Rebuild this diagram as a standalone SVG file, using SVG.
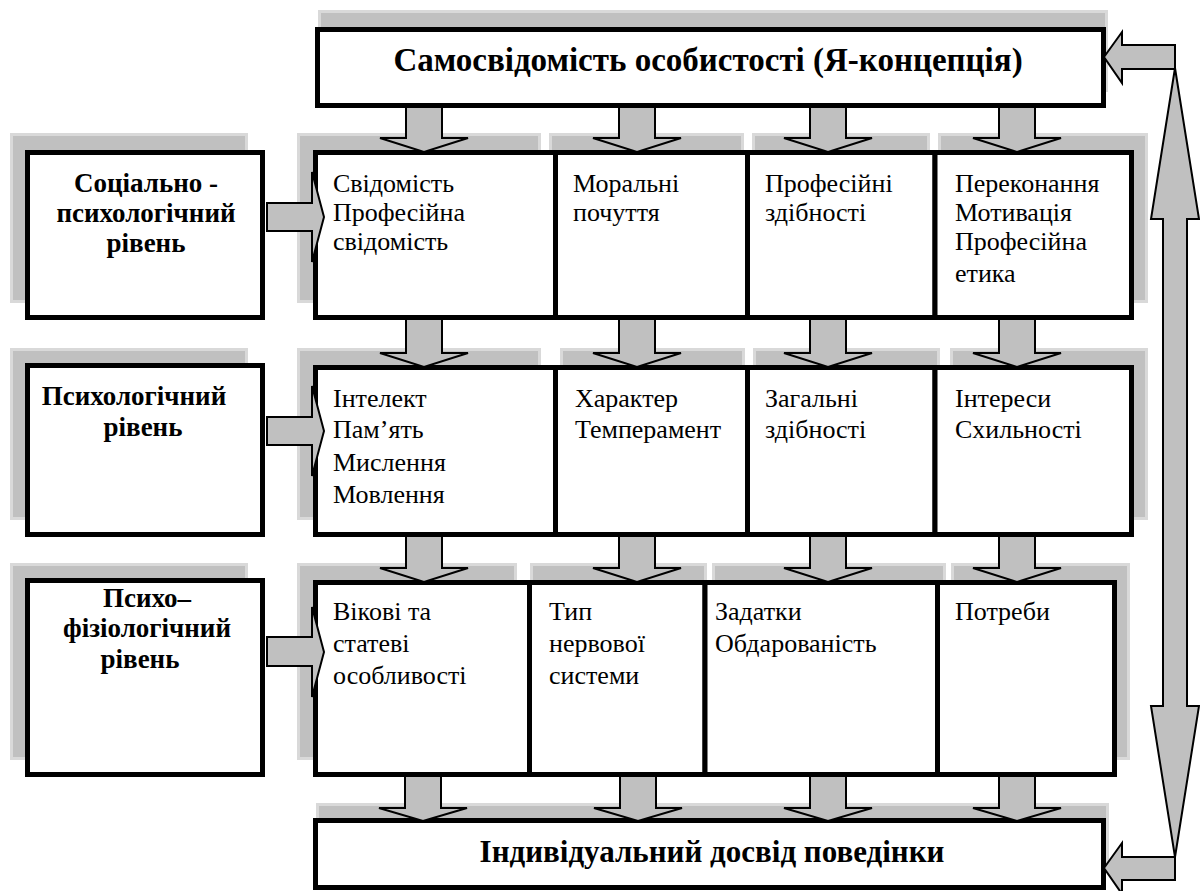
<svg xmlns="http://www.w3.org/2000/svg" width="1200" height="891" viewBox="0 0 1200 891">
<defs>
<style>
.sh{fill:#c0c0c0;stroke:#d9d9d9;stroke-width:3}
.box{fill:#ffffff;stroke:#000000;stroke-width:5}
.arr{fill:#c0c0c0;stroke:#000000;stroke-width:2;stroke-linejoin:miter}
.lvl{font-family:"Liberation Serif","Times New Roman",serif;font-weight:bold;font-size:27px;fill:#000;text-anchor:middle}
.cell{font-family:"Liberation Serif","Times New Roman",serif;font-size:26px;fill:#000}
.ttl{font-family:"Liberation Serif","Times New Roman",serif;font-weight:bold;font-size:33px;fill:#000;text-anchor:middle}
</style>
</defs>
<rect width="1200" height="891" fill="#ffffff"/>

<g id="shadows">
<rect class="sh" x="319.5" y="11.5" width="787" height="79"/>
<rect class="sh" x="11.5" y="134.5" width="235" height="167"/>
<rect class="sh" x="298.5" y="134.5" width="241" height="167"/>
<rect class="sh" x="550.5" y="134.5" width="192" height="167"/>
<rect class="sh" x="753.5" y="134.5" width="175" height="167"/>
<rect class="sh" x="939.5" y="134.5" width="207" height="167"/>
<rect class="sh" x="11.5" y="349.5" width="235" height="169"/>
<rect class="sh" x="298.5" y="349.5" width="241" height="169"/>
<rect class="sh" x="561.5" y="349.5" width="182" height="169"/>
<rect class="sh" x="754.5" y="349.5" width="184" height="169"/>
<rect class="sh" x="951.5" y="349.5" width="195" height="169"/>
<rect class="sh" x="11.5" y="564.5" width="235" height="194"/>
<rect class="sh" x="298.5" y="564.5" width="217" height="194"/>
<rect class="sh" x="531.5" y="564.5" width="174" height="194"/>
<rect class="sh" x="713.5" y="564.5" width="231" height="194"/>
<rect class="sh" x="952.5" y="564.5" width="176" height="194"/>
<rect class="sh" x="317.5" y="804.5" width="790" height="60"/>
</g>

<g id="top">
<rect class="box" x="317.5" y="29.5" width="786" height="76"/>
<text class="ttl" x="708" y="71">Самосвідомість особистості (Я-концепція)</text>
</g>

<g id="level1">
<rect class="box" x="27.5" y="152.5" width="235" height="165"/>
<text class="lvl" x="146" y="192">Соціально -</text>
<text class="lvl" x="146" y="222">психологічний</text>
<text class="lvl" x="146" y="252">рівень</text>
</g>
<g id="level2">
<rect class="box" x="27.5" y="365.5" width="235" height="169"/>
<text class="lvl" x="134" y="405">Психологічний</text>
<text class="lvl" x="143" y="436">рівень</text>
</g>
<g id="level3">
<rect class="box" x="27.5" y="580.5" width="235" height="194"/>
<text class="lvl" x="147" y="607">Психо–</text>
<text class="lvl" x="147" y="637">фізіологічний</text>
<text class="lvl" x="140" y="668">рівень</text>
</g>

<g id="r1c1"><rect class="box" x="315.5" y="152.5" width="240" height="165"/>
<text class="cell" x="333" y="192">Свідомість</text><text class="cell" x="333" y="221">Професійна</text><text class="cell" x="333" y="250">свідомість</text></g>
<g id="r1c2"><rect class="box" x="555.5" y="152.5" width="192" height="165"/>
<text class="cell" x="573" y="192">Моральні</text><text class="cell" x="573" y="221">почуття</text></g>
<g id="r1c3"><rect class="box" x="747.5" y="152.5" width="187.5" height="165"/>
<text class="cell" x="765" y="192">Професійні</text><text class="cell" x="765" y="221">здібності</text></g>
<g id="r1c4"><rect class="box" x="935" y="152.5" width="196.5" height="165"/>
<text class="cell" x="955" y="192">Переконання</text><text class="cell" x="955" y="221">Мотивація</text><text class="cell" x="955" y="250">Професійна</text><text class="cell" x="955" y="282">етика</text></g>

<g id="r2c1"><rect class="box" x="315.5" y="367.5" width="240" height="167"/>
<text class="cell" x="333" y="407">Інтелект</text><text class="cell" x="333" y="438">Пам’ять</text><text class="cell" x="333" y="471">Мислення</text><text class="cell" x="333" y="503">Мовлення</text></g>
<g id="r2c2"><rect class="box" x="555.5" y="367.5" width="192" height="167"/>
<text class="cell" x="575" y="407">Характер</text><text class="cell" x="575" y="438">Темперамент</text></g>
<g id="r2c3"><rect class="box" x="747.5" y="367.5" width="187.5" height="167"/>
<text class="cell" x="765" y="407">Загальні</text><text class="cell" x="765" y="438">здібності</text></g>
<g id="r2c4"><rect class="box" x="935" y="367.5" width="196.5" height="167"/>
<text class="cell" x="955" y="407">Інтереси</text><text class="cell" x="955" y="438">Схильності</text></g>

<g id="r3c1"><rect class="box" x="315.5" y="582.5" width="214" height="192"/>
<text class="cell" x="333" y="620">Вікові та</text><text class="cell" x="333" y="652">статеві</text><text class="cell" x="333" y="684">особливості</text></g>
<g id="r3c2"><rect class="box" x="529.5" y="582.5" width="175.5" height="192"/>
<text class="cell" x="549" y="620">Тип</text><text class="cell" x="549" y="652">нервової</text><text class="cell" x="549" y="684">системи</text></g>
<g id="r3c3"><rect class="box" x="705" y="582.5" width="232.5" height="192"/>
<text class="cell" x="715" y="620">Задатки</text><text class="cell" x="715" y="652">Обдарованість</text></g>
<g id="r3c4"><rect class="box" x="937.5" y="582.5" width="177" height="192"/>
<text class="cell" x="955" y="620">Потреби</text></g>

<g id="bottom">
<rect class="box" x="315.5" y="820.5" width="788" height="67"/>
<text class="ttl" x="712" y="862" style="font-size:31px">Індивідуальний досвід поведінки</text>
</g>

<g id="connectors">
<polygon class="arr" points="406,107 442,107 442,138 468,138 424,152 380,138 406,138"/>
<polygon class="arr" points="619,107 655,107 655,138 681,138 637,152 593,138 619,138"/>
<polygon class="arr" points="810,107 846,107 846,138 872,138 828,152 784,138 810,138"/>
<polygon class="arr" points="999,107 1035,107 1035,138 1061,138 1017,152 973,138 999,138"/>
<polygon class="arr" points="406,319 442,319 442,353 468,353 424,367 380,353 406,353"/>
<polygon class="arr" points="619,319 655,319 655,353 681,353 637,367 593,353 619,353"/>
<polygon class="arr" points="810,319 846,319 846,353 872,353 828,367 784,353 810,353"/>
<polygon class="arr" points="999,319 1035,319 1035,353 1061,353 1017,367 973,353 999,353"/>
<polygon class="arr" points="406,536 442,536 442,568 468,568 424,582 380,568 406,568"/>
<polygon class="arr" points="619,536 655,536 655,568 681,568 637,582 593,568 619,568"/>
<polygon class="arr" points="810,536 846,536 846,568 872,568 828,582 784,568 810,568"/>
<polygon class="arr" points="999,536 1035,536 1035,568 1061,568 1017,582 973,568 999,568"/>
<polygon class="arr" points="405,776 441,776 441,808 467,808 423,821 379,808 405,808"/>
<polygon class="arr" points="620,776 656,776 656,808 682,808 638,821 594,808 620,808"/>
<polygon class="arr" points="810,776 846,776 846,808 872,808 828,821 784,808 810,808"/>
<polygon class="arr" points="999,776 1035,776 1035,808 1061,808 1017,821 973,808 999,808"/>
<polygon class="arr" points="267,203 312,203 312,172 324,217 312,262 312,231 267,231"/>
<polygon class="arr" points="267,417 312,417 312,386 324,431 312,476 312,445 267,445"/>
<polygon class="arr" points="267,637 312,637 312,607 324,652 312,697 312,666 267,666"/>
<polygon class="arr" points="1104,57 1122,32 1122,45 1175,45 1175,69 1122,69 1122,83"/>
<polygon class="arr" points="1175,68 1199,219 1187,219 1187,706 1199,706 1175,857 1151,706 1163,706 1163,219 1151,219"/>
<polygon class="arr" points="1104,868 1122,843 1122,857 1175,857 1175,880 1122,880 1122,894"/>
</g>
</svg>
